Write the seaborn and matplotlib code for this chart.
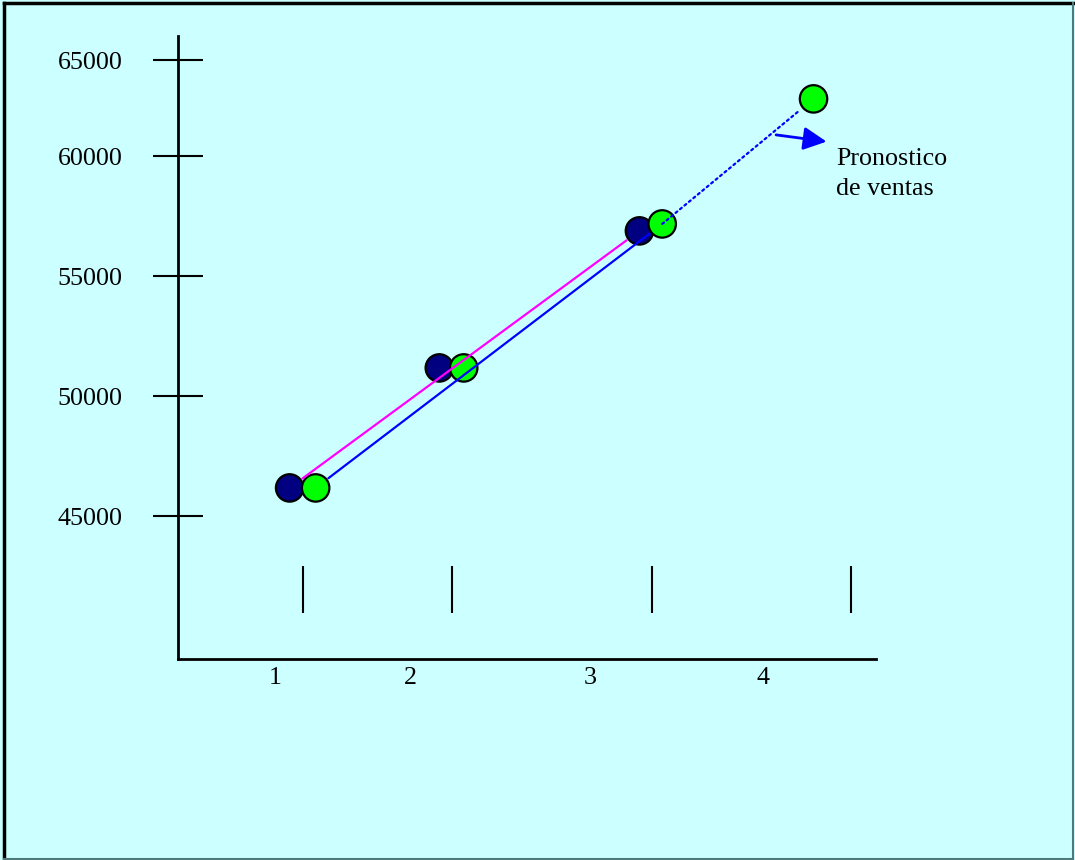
import matplotlib
matplotlib.use("Agg")
import matplotlib.pyplot as plt
from matplotlib.lines import Line2D
import pandas as pd
import seaborn as sns

# %% datos
periodo_real = [1.09, 2.01, 3.24]
ventas_real = [46170, 51170, 56880]

periodo_ajuste = [1.25, 2.16, 3.38]
ventas_ajuste = [46170, 51170, 57170]

periodo_pron = [4.31]
ventas_pron = [62380]

ytick_labels = ["45000", "50000", "55000", "60000", "65000"]
xtick_labels = ["1", "2", "3", "4"]
separadores = [1.17, 2.09, 3.32, 4.54]

# %% tabla para seaborn
df = pd.concat([
    pd.DataFrame({"periodo": periodo_real, "ventas": ventas_real, "serie": "real"}),
    pd.DataFrame({"periodo": periodo_ajuste, "ventas": ventas_ajuste, "serie": "ajuste"}),
    pd.DataFrame({"periodo": periodo_pron, "ventas": ventas_pron, "serie": "pronostico"}),
], ignore_index=True)

fondo = "#CCFFFF"
plt.rcParams["font.family"] = ["Liberation Serif", "DejaVu Serif"]

fig = plt.figure(figsize=(10.75, 8.6), dpi=100, facecolor=fondo)
ax = fig.add_axes([178 / 1075, 1 - 659 / 860, 698 / 1075, 623 / 860])
ax.set_facecolor("none")

sns.scatterplot(
    data=df, x="periodo", y="ventas", hue="serie",
    palette={"real": "#000080", "ajuste": "#00FF00", "pronostico": "#00FF00"},
    s=390, edgecolor="black", linewidth=1.6, legend=False, ax=ax, zorder=2,
)

# %% lineas de tendencia
def tramo(p0, p1, color, ls="-", sa=11.5, sb=11.5):
    ax.annotate("", xy=p1, xytext=p0,
                arrowprops=dict(arrowstyle="-", color=color, lw=1.6, ls=ls,
                                shrinkA=sa, shrinkB=sb), zorder=3)

tramo((periodo_real[0], ventas_real[0]), (periodo_real[-1], ventas_real[-1]), "#FF00FF")
tramo((periodo_ajuste[0], ventas_ajuste[0]), (periodo_ajuste[-1], ventas_ajuste[-1]), "#0000FF")
tramo((periodo_ajuste[-1], ventas_ajuste[-1]), (periodo_pron[0], ventas_pron[0]), "#0000FF",
      ls=(0, (1, 1.6)), sa=0, sb=14)

# flecha y texto del pronostico
ax.annotate("", xy=(4.39, 60600), xytext=(4.08, 60880),
            arrowprops=dict(arrowstyle="-|>,head_length=0.7,head_width=0.35",
                            color="#0000FF", lw=2, mutation_scale=20,
                            shrinkA=0, shrinkB=0))
ax.text(4.448, 58375, "Pronostico\nde ventas", fontsize=18.7, ha="left",
        va="baseline", linespacing=1.45, color="black")

# marcas verticales sueltas
ax.vlines(separadores, 40960, 42920, color="black", lw=1.5)

# %% ejes
ax.set_xlim(0.404, 4.694)
ax.set_ylim(39042, 65000)
sns.despine(ax=ax)
for s in ["left", "bottom"]:
    ax.spines[s].set_linewidth(2)
    ax.spines[s].set_color("black")

ax.set_yticks([45000, 50000, 55000, 60000, 64000])
ax.set_yticklabels(ytick_labels)
ax.tick_params(axis="y", direction="inout", length=36, width=1.5, pad=22,
               labelsize=18.7)
ax.set_xticks([1.0, 1.83, 2.94, 4.0])
ax.set_xticklabels(xtick_labels)
ax.tick_params(axis="x", length=0, pad=6, labelsize=18.7)
ax.set_xlabel("")
ax.set_ylabel("")

# marco de la figura
fig.add_artist(Line2D([0.0033, 0.0033], [0.0017, 0.9965], transform=fig.transFigure, color="black", lw=2.5))
fig.add_artist(Line2D([0.0033, 0.9986], [0.9965, 0.9965], transform=fig.transFigure, color="black", lw=2.5))
fig.add_artist(Line2D([0.9986, 0.9986], [0.0017, 0.9965], transform=fig.transFigure, color="#4f7a7a", lw=1.5))
fig.add_artist(Line2D([0.0033, 0.9986], [0.0017, 0.0017], transform=fig.transFigure, color="#4f7a7a", lw=1.5))

fig.savefig("out.png", dpi=100, facecolor=fondo)
